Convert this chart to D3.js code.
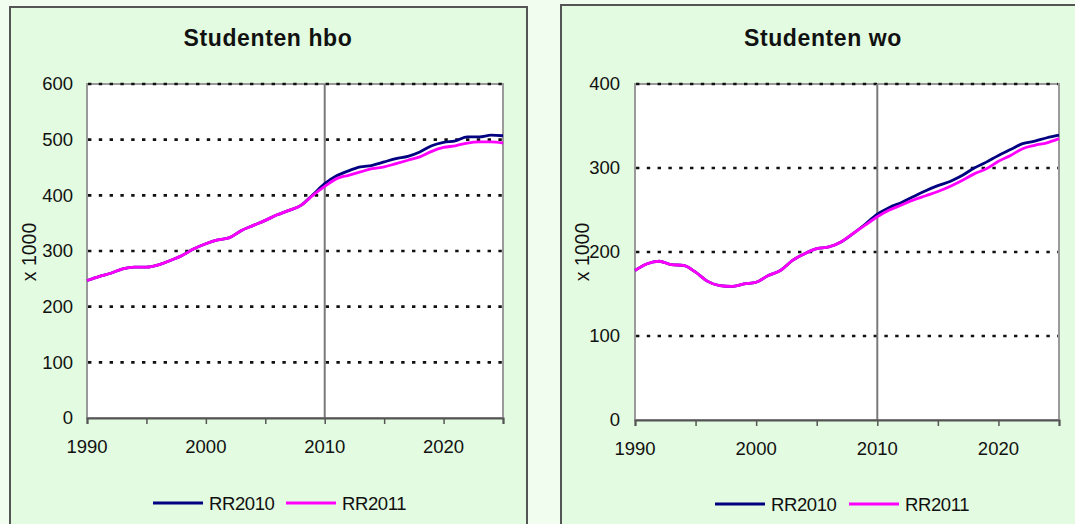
<!DOCTYPE html>
<html>
<head>
<meta charset="utf-8">
<script src="https://cdn.jsdelivr.net/npm/d3@7"></script>
<style>
  html, body { margin: 0; padding: 0; background: #f1fdef; }
  svg { display: block; }
  text { font-family: "Liberation Sans", Arial, Helvetica, sans-serif; fill: #111; }
</style>
</head>
<body>
<svg id="chart" width="1075" height="524"></svg>
<script>
// ---- data ----
const years = [1990,1991,1992,1993,1994,1995,1996,1997,1998,1999,
               2000,2001,2002,2003,2004,2005,2006,2007,2008,2009,
               2010,2011,2012,2013,2014,2015,2016,2017,2018,2019,
               2020,2021,2022,2023,2024,2025];
const seriesNames = ["RR2010", "RR2011"];
const seriesColors = ["#000080", "#ff00ff"];

const hboRR2010 = [247,254,260,268,271,271,275,283,292,304,
                   313,320,324,337,346,355,365,373,382,401,
                   421,435,444,451,454,460,466,470,478,489,
                   495,498,505,505,508,507];
const hboRR2011 = [247,254,260,268,271,271,275,283,292,304,
                   313,320,324,337,346,355,365,373,382,400,
                   416,430,436,442,448,451,457,463,469,479,
                   486,489,494,496,496,494];

const woRR2010 = [178,186,189,185,184,176,165,160,159,162,
                  164,172,178,190,198,204,206,212,222,233,
                  245,253,259,266,273,279,284,291,300,307,
                  315,322,329,332,336,339];
const woRR2011 = [178,186,189,185,184,176,165,160,159,162,
                  164,172,178,190,198,204,206,212,222,232,
                  242,250,256,262,267,272,278,285,293,299,
                  308,315,323,327,330,335];

const hboTitle = "Studenten hbo";
const woTitle = "Studenten wo";
const yAxisTitle = "x 1000";
const hboYTicks = [0,100,200,300,400,500,600];
const woYTicks = [0,100,200,300,400];
const xTickLabels = [1990,2000,2010,2020];
const xMinorTicks = [1990,1995,2000,2005,2010,2015,2020,2025];
const markerYear = 2010;

// ---- drawing ----
const svg = d3.select("#chart");

function panel(cfg) {
  const g = svg.append("g");
  g.append("rect")
    .attr("x", cfg.box[0]).attr("y", cfg.box[1])
    .attr("width", cfg.box[2]).attr("height", cfg.box[3])
    .attr("fill", "#e3fbe0").attr("stroke", "#555").attr("stroke-width", 2);

  const x = d3.scaleLinear().domain([1990, 2025]).range([cfg.plot[0], cfg.plot[1]]);
  const y = d3.scaleLinear().domain([0, cfg.yMax]).range([cfg.plot[3], cfg.plot[2]]);

  g.append("rect")
    .attr("x", x(1990)).attr("y", y(cfg.yMax))
    .attr("width", x(2025) - x(1990)).attr("height", y(0) - y(cfg.yMax))
    .attr("fill", "#fff").attr("stroke", "#9a9a9a").attr("stroke-width", 2);

  g.append("g").selectAll("line")
    .data(cfg.yTicks.filter(d => d > 0))
    .join("line")
    .attr("x1", x(1990) + 1).attr("x2", x(2025) - 1)
    .attr("y1", d => y(d)).attr("y2", d => y(d))
    .attr("stroke", "#111").attr("stroke-width", 2.6)
    .attr("stroke-dasharray", "3.4,7.4");

  g.append("line")
    .attr("x1", x(markerYear)).attr("x2", x(markerYear))
    .attr("y1", y(cfg.yMax)).attr("y2", y(0))
    .attr("stroke", "#7a7a7a").attr("stroke-width", 2);

  const xAxis = d3.axisBottom(x).tickValues(xMinorTicks).tickSize(6).tickFormat("");
  const xa = g.append("g").attr("transform", `translate(0,${y(0)})`).call(xAxis);
  xa.select(".domain").attr("stroke", "#555").attr("stroke-width", 2);
  xa.selectAll(".tick line").attr("stroke", "#555").attr("stroke-width", 1.5);

  g.append("g").selectAll("text")
    .data(xTickLabels).join("text")
    .attr("x", d => x(d)).attr("y", y(0) + 35)
    .attr("text-anchor", "middle").attr("font-size", 18.5)
    .text(d => d);

  const ya = g.append("g").attr("transform", `translate(${x(1990)},0)`)
    .call(d3.axisLeft(y).tickValues(cfg.yTicks).tickSize(0).tickPadding(cfg.yPad));
  ya.select(".domain").remove();
  ya.selectAll("text").attr("font-size", 18.5)
    .style("font-family", "'Liberation Sans', Arial, sans-serif").attr("fill", "#111");

  g.append("text")
    .attr("transform", `translate(${cfg.yTitleX},${cfg.yTitleY}) rotate(-90)`)
    .attr("text-anchor", "middle").attr("dominant-baseline", "central")
    .attr("font-size", 19.5).text(yAxisTitle);

  g.append("text")
    .attr("x", cfg.titleX).attr("y", 46)
    .attr("text-anchor", "middle").attr("font-size", 23).attr("font-weight", "bold")
    .attr("letter-spacing", 0.6)
    .text(cfg.title);

  const line = d3.line().x((d, i) => x(years[i])).y(d => y(d)).curve(d3.curveMonotoneX);
  cfg.series.forEach((s, k) => {
    g.append("path").datum(s)
      .attr("d", line).attr("fill", "none")
      .attr("stroke", seriesColors[k]).attr("stroke-width", 2.8)
      .attr("stroke-linejoin", "round");
  });

  const lg = g.append("g");
  seriesNames.forEach((name, k) => {
    const lx = cfg.legendX[k];
    lg.append("line")
      .attr("x1", lx).attr("x2", lx + 50)
      .attr("y1", cfg.legendY).attr("y2", cfg.legendY)
      .attr("stroke", seriesColors[k]).attr("stroke-width", 3);
    lg.append("text")
      .attr("x", lx + 56).attr("y", cfg.legendY)
      .attr("dominant-baseline", "central")
      .attr("font-size", 18.5).attr("letter-spacing", -0.4).text(name);
  });
}

panel({
  box: [10, 7, 517, 530],
  plot: [87, 503, 84, 418],
  yMax: 600, yTicks: hboYTicks, yPad: 14,
  yTitleX: 29, yTitleY: 252,
  title: hboTitle, titleX: 268,
  series: [hboRR2010, hboRR2011],
  legendX: [153, 286], legendY: 503
});

panel({
  box: [561, 5, 540, 530],
  plot: [635, 1059, 84, 420],
  yMax: 400, yTicks: woYTicks, yPad: 15,
  yTitleX: 582, yTitleY: 252,
  title: woTitle, titleX: 823,
  series: [woRR2010, woRR2011],
  legendX: [715, 849], legendY: 504
});
</script>
</body>
</html>
